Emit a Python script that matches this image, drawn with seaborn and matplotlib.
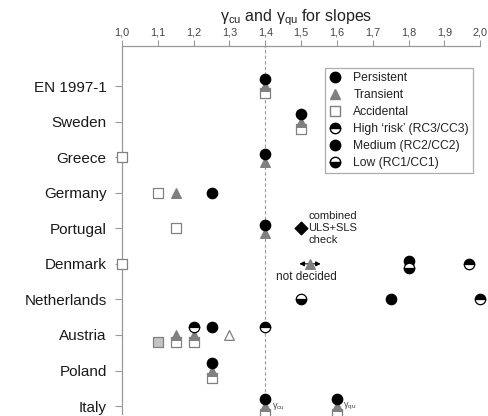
import matplotlib
matplotlib.use("Agg")
import matplotlib.pyplot as plt
import numpy as np
import pandas as pd
import seaborn as sns
from matplotlib.lines import Line2D
from matplotlib.ticker import FuncFormatter

countries = ["EN 1997-1", "Sweden", "Greece", "Germany", "Portugal",
             "Denmark", "Netherlands", "Austria", "Poland", "Italy"]

pt_country = (["EN 1997-1"] * 3 + ["Sweden"] * 3 + ["Greece"] * 3
              + ["Germany"] * 3 + ["Portugal"] * 4 + ["Denmark"] * 5
              + ["Netherlands"] * 3 + ["Austria"] * 9 + ["Poland"] * 3
              + ["Italy"] * 6)
pt_value = [1.4, 1.4, 1.4,
            1.5, 1.5, 1.5,
            1.4, 1.4, 1.0,
            1.25, 1.15, 1.1,
            1.4, 1.4, 1.15, 1.5,
            1.0, 1.525, 1.8, 1.8, 1.97,
            1.5, 1.75, 2.0,
            1.1, 1.15, 1.15, 1.2, 1.2, 1.2, 1.25, 1.3, 1.4,
            1.25, 1.25, 1.25,
            1.4, 1.4, 1.4, 1.6, 1.6, 1.6]
pt_kind = ["persistent", "transient", "accidental",
           "persistent", "transient", "accidental",
           "persistent", "transient", "accidental",
           "persistent", "transient", "accidental",
           "persistent", "transient", "accidental", "combined",
           "accidental", "undecided", "medium", "low", "high",
           "low", "medium", "high",
           "accidental_multi", "transient", "accidental", "high", "transient",
           "accidental", "persistent", "transient_open", "high",
           "persistent", "transient", "accidental",
           "persistent", "transient", "accidental",
           "persistent", "transient", "accidental"]

x_ticks = [1.0, 1.1, 1.2, 1.3, 1.4, 1.5, 1.6, 1.7, 1.8, 1.9, 2.0]

GREY = "#808080"
styles = {
    "persistent": dict(marker="o", fc="black", ec="black", ms=7.5, z=5),
    "medium": dict(marker="o", fc="black", ec="black", ms=7.5, z=5),
    "transient": dict(marker="^", fc=GREY, ec=GREY, ms=7, z=4),
    "transient_open": dict(marker="^", fc="white", ec=GREY, ms=7, z=4),
    "accidental": dict(marker="s", fc="white", ec=GREY, ms=7, z=3),
    "accidental_multi": dict(marker="s", fc="#c4c4c4", ec=GREY, ms=7, z=3),
    "combined": dict(marker="D", fc="black", ec="black", ms=6.5, z=5),
    "undecided": dict(marker="^", fc=GREY, ec=GREY, ms=7, z=4),
}
half_styles = {"high": "top", "low": "bottom"}
rank = {"persistent": 0, "medium": 0, "high": 0, "low": 1, "combined": 0,
        "transient": 2, "transient_open": 2, "undecided": 2,
        "accidental": 3, "accidental_multi": 3}
level = {0: -0.21, 1: -0.21, 2: 0.0, 3: 0.21}

df = pd.DataFrame({"country": pt_country, "value": pt_value, "kind": pt_kind})
df["row"] = df["country"].map({c: i for i, c in enumerate(countries)})
df["rank"] = df["kind"].map(rank)
df["gsize"] = df.groupby(["country", "value"])["kind"].transform("size")
three_level = df[df["gsize"] >= 3]["country"].unique()

# stack markers that share a country and a value
offsets = np.zeros(len(df))
for (c, v), g in df.groupby(["country", "value"]):
    g = g.sort_values("rank")
    n = len(g)
    for i, idx in enumerate(g.index):
        if c in three_level:
            offsets[idx] = level[g.loc[idx, "rank"]]
        elif n > 1:
            offsets[idx] = (i - (n - 1) / 2) * 0.22 + 0.02
df["y"] = df["row"] + offsets

sns.set_style("white")
plt.rcParams["font.family"] = ["Liberation Sans", "DejaVu Sans"]
plt.rcParams["mathtext.default"] = "regular"

fig = plt.figure(figsize=(4.88, 4.16), dpi=100)
ax = fig.add_axes([0.25, 0.005, 0.734, 0.884])

ax.axvline(1.4, color="#999999", ls=(0, (3, 2)), lw=0.8, zorder=1)

for kind, st in styles.items():
    sub = df[df["kind"] == kind]
    if sub.empty:
        continue
    sns.scatterplot(data=sub, x="value", y="y", marker=st["marker"],
                    s=st["ms"] ** 2, color=st["fc"], edgecolor=st["ec"],
                    linewidth=0.9, ax=ax, zorder=st["z"], clip_on=False,
                    legend=False)

for kind, fs in half_styles.items():
    sub = df[df["kind"] == kind]
    ax.plot(sub["value"], sub["y"], ls="none", marker="o", ms=7.5,
            fillstyle=fs, mfc="black", mfcalt="white", mec="black",
            mew=0.9, zorder=5, clip_on=False)

# annotations
prow = countries.index("Portugal")
ax.text(1.52, prow - 0.02, "combined\nULS+SLS\ncheck", fontsize=8, color="#222222",
        ha="left", va="center", linespacing=1.25)

drow = countries.index("Denmark")
und = df[df["kind"] == "undecided"].iloc[0]
for dx in (-0.03, 0.03):
    ax.annotate("", xy=(und["value"] + dx, und["y"]), xytext=(und["value"], und["y"]),
                arrowprops=dict(arrowstyle="-|>", color="black", lw=0.8,
                                mutation_scale=7, shrinkA=0, shrinkB=0))
ax.text(und["value"] - 0.01, drow + 0.36, "not decided", fontsize=8.5,
        color="#222222", ha="center", va="center")

irow = countries.index("Italy")
ax.text(1.418, irow + 0.02, "\u03b3$_{cu}$", fontsize=6.5, color="#444444",
        ha="left", va="center")
ax.text(1.618, irow + 0.02, "\u03b3$_{qu}$", fontsize=6.5, color="#444444",
        ha="left", va="center")

ax.set_xlim(1.0, 2.0)
ax.set_ylim(9.22, -1.12)
ax.set_xticks(x_ticks)
ax.xaxis.set_major_formatter(FuncFormatter(lambda v, p: f"{v:.1f}".replace(".", ",")))
ax.set_yticks(range(len(countries)))
ax.set_yticklabels(countries)
ax.xaxis.tick_top()
ax.set_xlabel("")
ax.set_ylabel("")
ax.tick_params(axis="x", top=True, bottom=False, direction="out", length=4,
               width=0.8, color="#999999", labelsize=7.8, labelcolor="#444444",
               pad=2)
ax.tick_params(axis="y", left=True, direction="out", length=5, width=0.8,
               color="#999999", labelsize=11, labelcolor="#1a1a1a", pad=6)
for side in ("right", "bottom"):
    ax.spines[side].set_visible(False)
for side in ("top", "left"):
    ax.spines[side].set_color("#999999")
    ax.spines[side].set_linewidth(0.9)

fig.text(0.607, 0.958, "\u03b3$_{cu}$ and \u03b3$_{qu}$ for slopes",
         fontsize=11.5, color="#222222", ha="center", va="center")

handles = [
    Line2D([], [], ls="none", marker="o", ms=7.5, mfc="black", mec="black"),
    Line2D([], [], ls="none", marker="^", ms=7, mfc=GREY, mec=GREY),
    Line2D([], [], ls="none", marker="s", ms=7, mfc="white", mec=GREY),
    Line2D([], [], ls="none", marker="o", ms=7.5, fillstyle="top",
           mfc="black", mfcalt="white", mec="black"),
    Line2D([], [], ls="none", marker="o", ms=7.5, mfc="black", mec="black"),
    Line2D([], [], ls="none", marker="o", ms=7.5, fillstyle="bottom",
           mfc="black", mfcalt="white", mec="black"),
]
labels = ["Persistent", "Transient", "Accidental", "High \u2018risk\u2019 (RC3/CC3)",
          "Medium (RC2/CC2)", "Low (RC1/CC1)"]
leg = fig.legend(handles, labels, loc="upper right", bbox_to_anchor=(0.982, 0.852),
                 fontsize=8.7, frameon=True, fancybox=False, edgecolor="#999999",
                 handlelength=1.0, handletextpad=1.0, labelspacing=0.42,
                 borderpad=0.35, labelcolor="#222222")
leg.get_frame().set_linewidth(0.9)

fig.savefig("out.png", dpi=100, facecolor="white")
